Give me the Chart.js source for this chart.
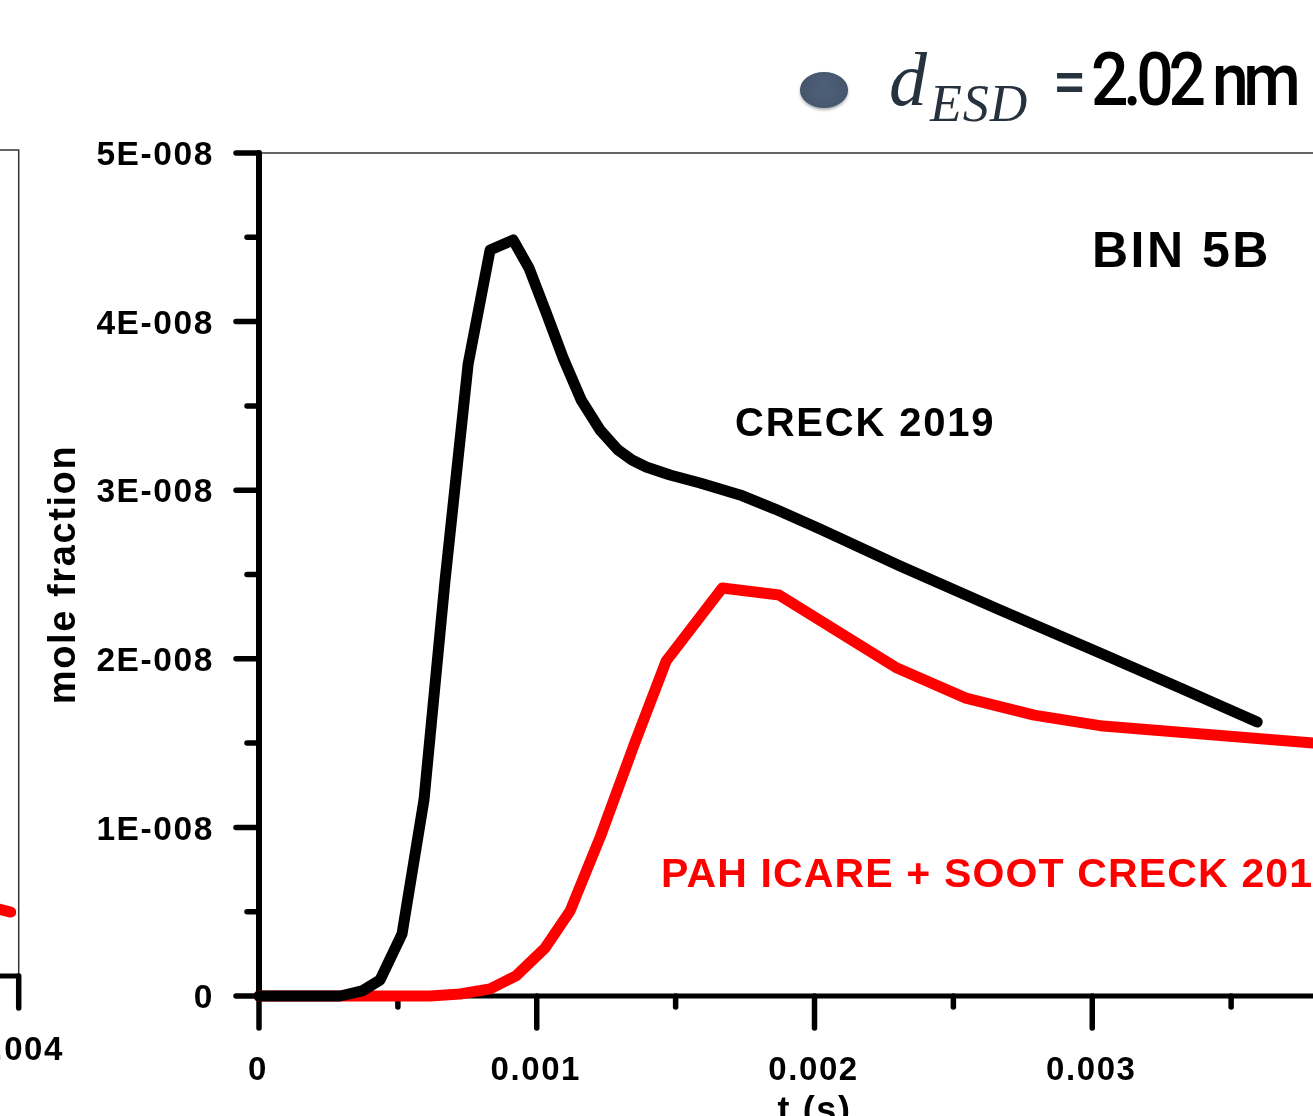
<!DOCTYPE html>
<html>
<head>
<meta charset="utf-8">
<title>BIN 5B</title>
<script src="https://cdn.jsdelivr.net/npm/chart.js@4"></script>
<style>
    html, body { margin: 0; padding: 0; background: #fff; overflow: hidden; }
    #page { position: relative; width: 1313px; height: 1116px; overflow: hidden; }
    canvas { position: absolute; top: 0; }
    #leftChart { left: -285px; }
    #mainChart { left: 0; }
</style>
</head>
<body>
<div id="page">
    <canvas id="leftChart" width="400" height="1116"></canvas>
    <canvas id="mainChart" width="1400" height="1116"></canvas>
</div>
<script>
// main panel, t in s, mole fraction
const crackTime = [0, 0.000292, 0.000371, 0.000436, 0.000515, 0.000594, 0.00067, 0.000753, 0.000832, 0.000915, 0.000972, 0.001033, 0.001095, 0.00116, 0.001228, 0.001293, 0.001343, 0.001394, 0.00148, 0.001588, 0.001732, 0.001858, 0.00202, 0.002308, 0.002668, 0.003028, 0.003317, 0.003594];
const crackValues = [0, 0, 0.03e-8, 0.095e-8, 0.368e-8, 1.163e-8, 2.467e-8, 3.749e-8, 4.425e-8, 4.484e-8, 4.318e-8, 4.057e-8, 3.784e-8, 3.535e-8, 3.357e-8, 3.238e-8, 3.179e-8, 3.138e-8, 3.09e-8, 3.043e-8, 2.972e-8, 2.888e-8, 2.77e-8, 2.55e-8, 2.289e-8, 2.034e-8, 1.827e-8, 1.625e-8];
const icareTime = [0, 0.000616, 0.000724, 0.000832, 0.000925, 0.00103, 0.00112, 0.00123, 0.00135, 0.001466, 0.001668, 0.001873, 0.002297, 0.002545, 0.002791, 0.003039, 0.003795];
const icareValues = [0, 0, 0.012e-8, 0.042e-8, 0.119e-8, 0.285e-8, 0.504e-8, 0.949e-8, 1.488e-8, 1.987e-8, 2.42e-8, 2.378e-8, 1.945e-8, 1.767e-8, 1.666e-8, 1.601e-8, 1.5e-8];

const xTicks = [0, 0.001, 0.002, 0.003];
const xTickLabels = ["0", "0.001", "0.002", "0.003"];
const xMinorTicks = [0.0005, 0.0015, 0.0025, 0.0035];
const yTicks = [0, 1e-8, 2e-8, 3e-8, 4e-8, 5e-8];
const yTickLabels = ["0", "1E-008", "2E-008", "3E-008", "4E-008", "5E-008"];
const yMinorTicks = [0.5e-8, 1.5e-8, 2.5e-8, 3.5e-8, 4.5e-8];

// what is left of the neighbouring panel
const leftTime = [0.00387, 0.00393, 0.003972];
const leftValues = [0.424e-8, 0.405e-8, 0.387e-8];
const leftTicks = [0.004];
const leftTickLabels = ["0.004"];

const sans = "'Liberation Sans', Arial, sans-serif";

function tick(ctx, x1, y1, x2, y2, width) {
    ctx.beginPath();
    ctx.moveTo(x1, y1);
    ctx.lineTo(x2, y2);
    ctx.lineWidth = width;
    ctx.lineCap = "round";
    ctx.strokeStyle = "#000";
    ctx.stroke();
}

function label(ctx, text, x, y, font, color, spacing) {
    ctx.font = font;
    ctx.fillStyle = color;
    ctx.letterSpacing = spacing;
    ctx.textAlign = "left";
    ctx.textBaseline = "alphabetic";
    ctx.fillText(text, x, y);
}

const mainAxes = {
    id: "mainAxes",
    beforeDraw(chart) {
        chart.ctx.letterSpacing = "1.6px";
    },
    beforeDatasetsDraw(chart) {
        const { ctx, chartArea, scales } = chart;
        ctx.save();
        // thin top border
        ctx.strokeStyle = "#333";
        ctx.lineWidth = 1.5;
        ctx.beginPath();
        ctx.moveTo(chartArea.left, chartArea.top);
        ctx.lineTo(chartArea.right, chartArea.top);
        ctx.stroke();
        tick(ctx, chartArea.left, chartArea.top, chartArea.left, chartArea.bottom, 6);
        tick(ctx, chartArea.left, chartArea.bottom, chartArea.right, chartArea.bottom, 5);
        yTicks.forEach(v => {
            const y = scales.y.getPixelForValue(v);
            tick(ctx, chartArea.left, y, chartArea.left - 23, y, 5.5);
        });
        yMinorTicks.forEach(v => {
            const y = scales.y.getPixelForValue(v);
            tick(ctx, chartArea.left, y, chartArea.left - 12, y, 5.5);
        });
        xTicks.forEach(v => {
            const x = scales.x.getPixelForValue(v);
            tick(ctx, x, chartArea.bottom, x, chartArea.bottom + 32, 5.5);
        });
        xMinorTicks.forEach(v => {
            const x = scales.x.getPixelForValue(v);
            tick(ctx, x, chartArea.bottom, x, chartArea.bottom + 11, 5.5);
        });
        ctx.restore();
    },
    afterDraw(chart) {
        const ctx = chart.ctx;
        ctx.save();
        label(ctx, "BIN 5B", 1092, 267, "bold 50px " + sans, "#000", "2.5px");
        label(ctx, "CRECK 2019", 735, 436, "bold 40px " + sans, "#000", "1.8px");
        label(ctx, "PAH ICARE + SOOT CRECK 2019", 661, 887, "bold 41px " + sans, "#f00", "1.15px");

        // size marker and heading
        const g = ctx.createRadialGradient(824, 88, 4, 824, 90, 26);
        g.addColorStop(0, "#4d5f78");
        g.addColorStop(0.8, "#46566c");
        g.addColorStop(1, "#39485b");
        ctx.fillStyle = g;
        ctx.shadowColor = "rgba(0,0,0,0.3)";
        ctx.shadowBlur = 3;
        ctx.shadowOffsetY = 2;
        ctx.beginPath();
        ctx.ellipse(824, 90, 24, 18, 0, 0, Math.PI * 2);
        ctx.fill();
        ctx.shadowColor = "transparent";
        label(ctx, "d", 889, 105, "italic 76px 'Liberation Serif', serif", "#26323e", "0px");
        label(ctx, "ESD", 930, 121, "italic 52px 'Liberation Serif', serif", "#26323e", "1px");
        label(ctx, "=", 1055, 100, "bold 50px " + sans, "#26323e", "0px");
        ctx.translate(1091, 105);
        ctx.scale(0.88, 1);
        label(ctx, "2.02 nm", 0, 0, "500 75px Roboto, sans-serif", "#000", "-6px");
        ctx.restore();
    }
};

const leftAxes = {
    id: "leftAxes",
    beforeDraw(chart) {
        chart.ctx.letterSpacing = "1.6px";
    },
    beforeDatasetsDraw(chart) {
        const { ctx, chartArea } = chart;
        ctx.save();
        ctx.strokeStyle = "#333";
        ctx.lineWidth = 1.5;
        ctx.beginPath();
        ctx.moveTo(chartArea.left, chartArea.top);
        ctx.lineTo(chartArea.right, chartArea.top);
        ctx.lineTo(chartArea.right, chartArea.bottom);
        ctx.stroke();
        tick(ctx, chartArea.left, chartArea.bottom, chartArea.right, chartArea.bottom, 5);
        tick(ctx, chartArea.right, chartArea.bottom, chartArea.right, chartArea.bottom + 32, 5.5);
        ctx.restore();
    }
};

new Chart(document.getElementById("mainChart"), {
    type: "line",
    plugins: [mainAxes],
    data: {
        datasets: [{
            label: "CRECK 2019",
            data: crackTime.map((t, i) => ({ x: t, y: crackValues[i] })),
            borderColor: "#000",
            order: 0
        }, {
            label: "PAH ICARE + SOOT CRECK 2019",
            data: icareTime.map((t, i) => ({ x: t, y: icareValues[i] })),
            borderColor: "#f00",
            order: 1
        }]
    },
    options: {
        responsive: false,
        animation: false,
        layout: { padding: { top: 153, right: 30, left: 0, bottom: 0 } },
        elements: {
            point: { radius: 0 },
            line: { borderWidth: 11, tension: 0, borderCapStyle: "round", borderJoinStyle: "round" }
        },
        datasets: { line: { clip: false } },
        plugins: { legend: { display: false }, tooltip: { enabled: false } },
        scales: {
            x: {
                type: "linear",
                min: 0,
                max: 0.004,
                grid: { display: false, drawTicks: false },
                border: { display: false },
                afterFit: s => { s.height = 120; },
                afterBuildTicks: s => { s.ticks = xTicks.map(v => ({ value: v })); },
                ticks: {
                    autoSkip: false,
                    maxRotation: 0,
                    padding: 55,
                    labelOffset: -1,
                    color: "#000",
                    font: { family: sans, size: 33, weight: "bold" },
                    callback: (v, i) => xTickLabels[i]
                },
                title: {
                    display: true,
                    text: "t (s)",
                    color: "#000",
                    font: { family: sans, size: 36, weight: "bold" },
                    padding: { top: 0, bottom: -18 }
                }
            },
            y: {
                min: 0,
                max: 5e-8,
                grid: { display: false, drawTicks: false },
                border: { display: false },
                afterFit: s => { s.width = 259; },
                afterBuildTicks: s => { s.ticks = yTicks.map(v => ({ value: v })); },
                ticks: {
                    autoSkip: false,
                    padding: 45,
                    labelOffset: 3,
                    color: "#000",
                    font: { family: sans, size: 33.5, weight: "bold" },
                    callback: (v, i) => yTickLabels[i]
                },
                title: {
                    display: true,
                    text: "mole fraction",
                    color: "#000",
                    font: { family: sans, size: 38, weight: "bold" },
                    padding: { top: 42, bottom: 0 }
                }
            }
        }
    }
});

new Chart(document.getElementById("leftChart"), {
    type: "line",
    plugins: [leftAxes],
    data: {
        datasets: [{
            label: "PAH ICARE + SOOT CRECK 2019",
            data: leftTime.map((t, i) => ({ x: t, y: leftValues[i] })),
            borderColor: "#f00"
        }]
    },
    options: {
        responsive: false,
        animation: false,
        layout: { padding: { top: 150, right: 80, left: 0, bottom: 0 } },
        elements: {
            point: { radius: 0 },
            line: { borderWidth: 11, tension: 0, borderCapStyle: "round", borderJoinStyle: "round" }
        },
        plugins: { legend: { display: false }, tooltip: { enabled: false } },
        scales: {
            x: {
                type: "linear",
                min: 0.003,
                max: 0.004,
                grid: { display: false, drawTicks: false },
                border: { display: false },
                afterFit: s => { s.height = 140; },
                afterBuildTicks: s => { s.ticks = leftTicks.map(v => ({ value: v })); },
                ticks: {
                    autoSkip: false,
                    maxRotation: 0,
                    padding: 55,
                    color: "#000",
                    font: { family: sans, size: 33, weight: "bold" },
                    callback: (v, i) => leftTickLabels[i]
                }
            },
            y: {
                display: true,
                min: 0,
                max: 5e-8,
                grid: { display: false, drawTicks: false },
                border: { display: false },
                afterFit: s => { s.width = 20; },
                afterBuildTicks: s => { s.ticks = []; }
            }
        }
    }
});
</script>
</body>
</html>
